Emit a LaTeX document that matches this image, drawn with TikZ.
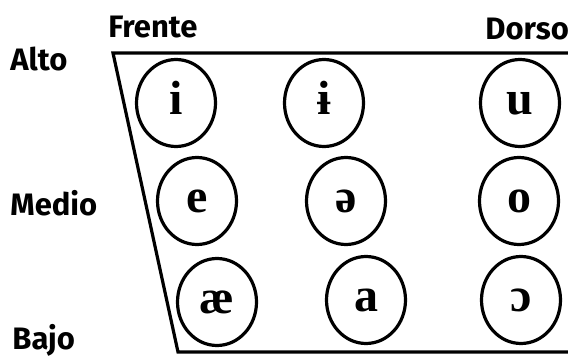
\documentclass[tikz,border=0pt]{standalone}
\usepackage{fontspec}
\usepackage{tikz}
\usetikzlibrary{shapes.geometric}
\setmainfont{Liberation Serif}
\newfontfamily\labelfont{Fira Sans}

\begin{document}
\begin{tikzpicture}[x=1pt,y=1pt,thick,
vowel/.style={ellipse,draw,line width=3.2pt,inner sep=0pt,minimum width=79pt,minimum height=87pt,text height=22pt,text depth=0pt,font=\fontsize{48}{48}\selectfont\bfseries},
axis/.style={inner sep=0pt,anchor=base west,font=\labelfont\fontsize{31}{31}\selectfont\bfseries}
]
\useasboundingbox (0,0) rectangle (568,357);
\clip (0,0) rectangle (568,357);

% trapecio
\draw[line width=3.2pt,line join=miter] (575,304) -- (113,304) -- (178,5) -- (575,5);

\foreach \x/\y/\v/\n in {176/254/i/i, 324/254/ɨ/ibar, 520/254/u/u,
197/156/e/e, 346/156/ə/schwa, 519/156/o/o,
217/55/æ/ae, 366/57/a/a, 521/57/ɔ/oopen}
{
\node[vowel] (\n) at (\x,\y) {\v};
}

\node[axis] (frente) at (108,319) {Frente};
\node[axis] (dorso) at (485,317) {Dorso};
\node[axis] (alto) at (10,287) {Alto};
\node[axis] (medio) at (10,142) {Medio};
\node[axis] (bajo) at (12,8) {Bajo};
\end{tikzpicture}
\end{document}
